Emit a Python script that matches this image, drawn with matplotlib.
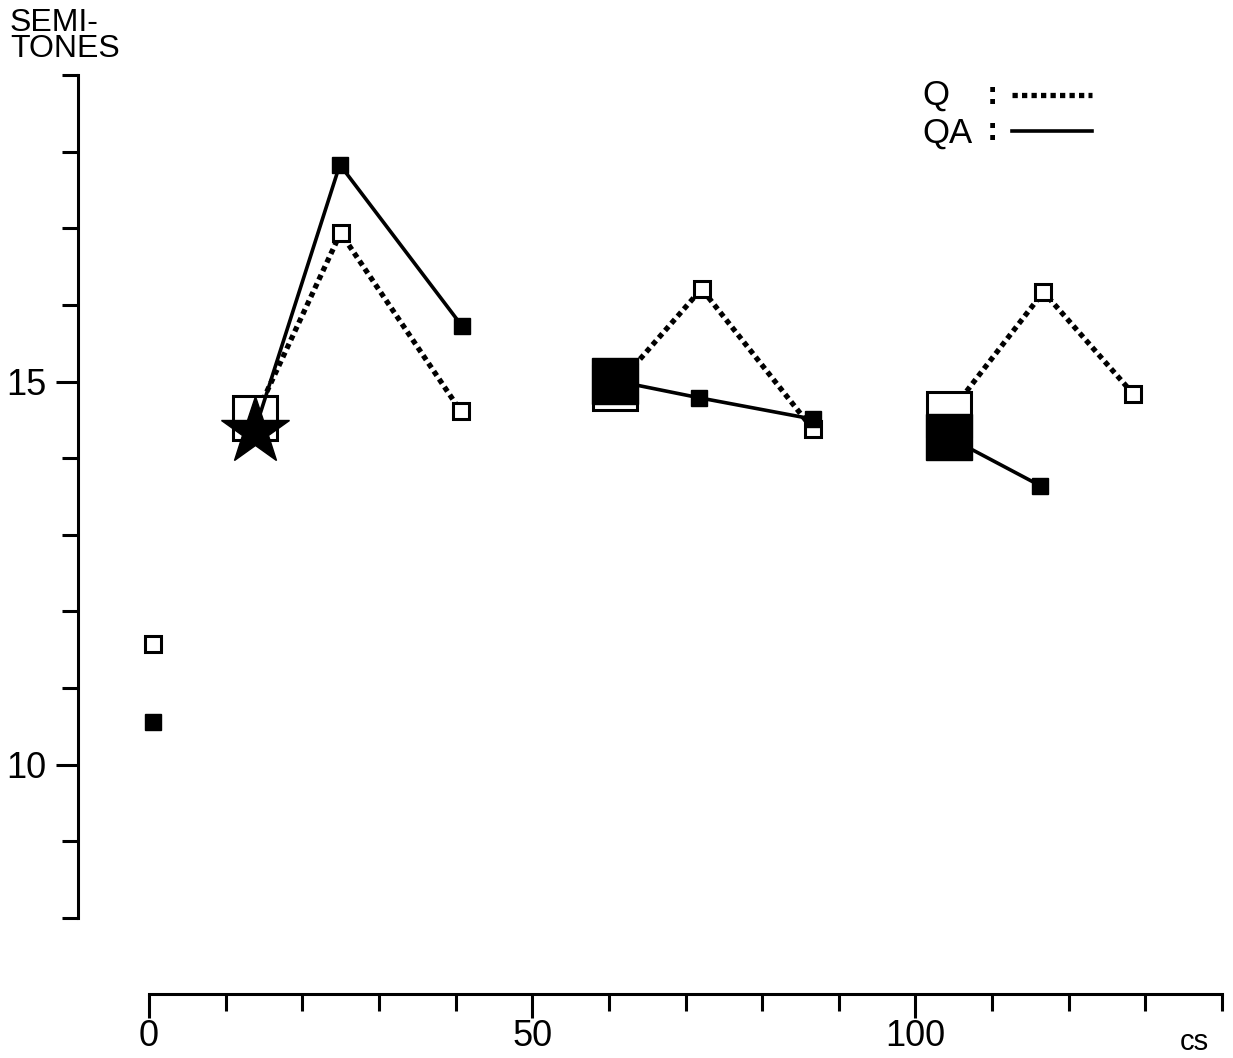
import matplotlib
matplotlib.use("Agg")
import matplotlib.pyplot as plt
from matplotlib.ticker import FixedLocator

plt.rcParams['font.family'] = ['Liberation Sans', 'DejaVu Sans']

# Q (question) - open squares, dotted line
q_x = [0.5, 13.8, 25.0, 40.7, 60.8, 72.1, 86.6, 104.4, 116.7, 128.4]
q_y = [11.57, 14.53, 16.94, 14.61, 14.92, 16.21, 14.38, 14.58, 16.17, 14.84]
q_big = [False, True, False, False, True, False, False, True, False, False]
q_groups = [[1, 2, 3], [4, 5, 6], [7, 8, 9]]

# QA (question-answer) - filled squares, solid line
qa_x = [0.5, 13.8, 24.9, 40.8, 60.8, 71.7, 86.6, 104.4, 116.3]
qa_y = [10.56, 14.36, 17.83, 15.73, 15.01, 14.79, 14.51, 14.27, 13.64]
qa_kind = ["sq", "star", "sq", "sq", "big", "sq", "sq", "big", "sq"]
qa_groups = [[1, 2, 3], [4, 5, 6], [7, 8]]

xticks = list(range(0, 141, 10))
xlabels = {0: "0", 50: "50", 100: "100"}
yticks = list(range(8, 20))
ylabels = {10: "10", 15: "15"}

fig = plt.figure(figsize=(12.33, 10.58), dpi=100)
ax = fig.add_axes([149 / 1233, 1 - 918 / 1058, (1222 - 149) / 1233, (918 - 75) / 1058])
ax.set_xlim(0, 140)
ax.set_ylim(8, 19)

lw_dot = 3.8
lw_solid = 2.6
dots = (0, (1.0, 0.8))

# Q lines then markers
for g in q_groups:
    ax.plot([q_x[i] for i in g], [q_y[i] for i in g], color="black", lw=lw_dot,
            linestyle=dots, dash_capstyle="butt", zorder=2, clip_on=False)
for x, y, big in zip(q_x, q_y, q_big):
    ax.plot(x, y, marker="s", ms=32 if big else 11, mfc="white", mec="black",
            mew=2.2, zorder=3, clip_on=False)

# QA lines then markers
for g in qa_groups:
    ax.plot([qa_x[i] for i in g], [qa_y[i] for i in g], color="black", lw=lw_solid,
            solid_capstyle="butt", zorder=4, clip_on=False)
for x, y, k in zip(qa_x, qa_y, qa_kind):
    if k == "star":
        ax.plot(x, y, marker="*", ms=51, mfc="black", mec="black", zorder=5, clip_on=False)
    elif k == "big":
        ax.plot(x, y, marker="s", ms=33, mfc="black", mec="black", zorder=5, clip_on=False)
    else:
        ax.plot(x, y, marker="s", ms=12, mfc="black", mec="black", zorder=5, clip_on=False)

# axes styling
for s in ["top", "right"]:
    ax.spines[s].set_visible(False)
ax.spines["left"].set_position(("outward", 51))
ax.spines["bottom"].set_position(("outward", 55))
ax.spines["left"].set_bounds(8, 19)
ax.spines["bottom"].set_bounds(0, 140)
for s in ["left", "bottom"]:
    ax.spines[s].set_linewidth(2.2)

ax.xaxis.set_major_locator(FixedLocator(list(xlabels.keys())))
ax.xaxis.set_minor_locator(FixedLocator([t for t in xticks if t not in xlabels]))
ax.set_xticklabels(list(xlabels.values()))
ax.yaxis.set_major_locator(FixedLocator(list(ylabels.keys())))
ax.yaxis.set_minor_locator(FixedLocator([t for t in yticks if t not in ylabels]))
ax.set_yticklabels(list(ylabels.values()))

ax.tick_params(axis="x", which="major", direction="out", length=17, width=2.2,
               labelsize=26, pad=1)
ax.tick_params(axis="x", which="minor", direction="out", length=12, width=2.2)
ax.tick_params(axis="y", which="major", direction="out", length=16, width=2.2,
               labelsize=26, pad=7)
ax.tick_params(axis="y", which="minor", direction="out", length=11.5, width=2.2)

fig.text(10 / 1233, 1 - 8 / 1058, "SEMI-\nTONES", fontsize=23, va="top", ha="left",
         linespacing=0.82)
fig.text(1194 / 1233, 1 - 1056 / 1058, "cs", fontsize=21, va="bottom", ha="center")

# legend
fig.text(922 / 1233, 1 - 95 / 1058, "Q", fontsize=25, va="center", ha="left")
fig.text(922 / 1233, 1 - 133 / 1058, "QA", fontsize=25, va="center", ha="left")
fig.text(992 / 1233, 1 - 96 / 1058, ":", fontsize=24, fontweight="bold", va="center", ha="center")
fig.text(992 / 1233, 1 - 131 / 1058, ":", fontsize=24, fontweight="bold", va="center", ha="center")
fig.add_artist(plt.Line2D([1012 / 1233, 1092 / 1233], [1 - 95 / 1058, 1 - 95 / 1058],
                          color="black", lw=lw_dot, linestyle=dots,
                          dash_capstyle="butt", transform=fig.transFigure))
fig.add_artist(plt.Line2D([1012 / 1233, 1092 / 1233], [1 - 131 / 1058, 1 - 131 / 1058],
                          color="black", lw=lw_solid, transform=fig.transFigure))

fig.savefig("out.png", dpi=100)
